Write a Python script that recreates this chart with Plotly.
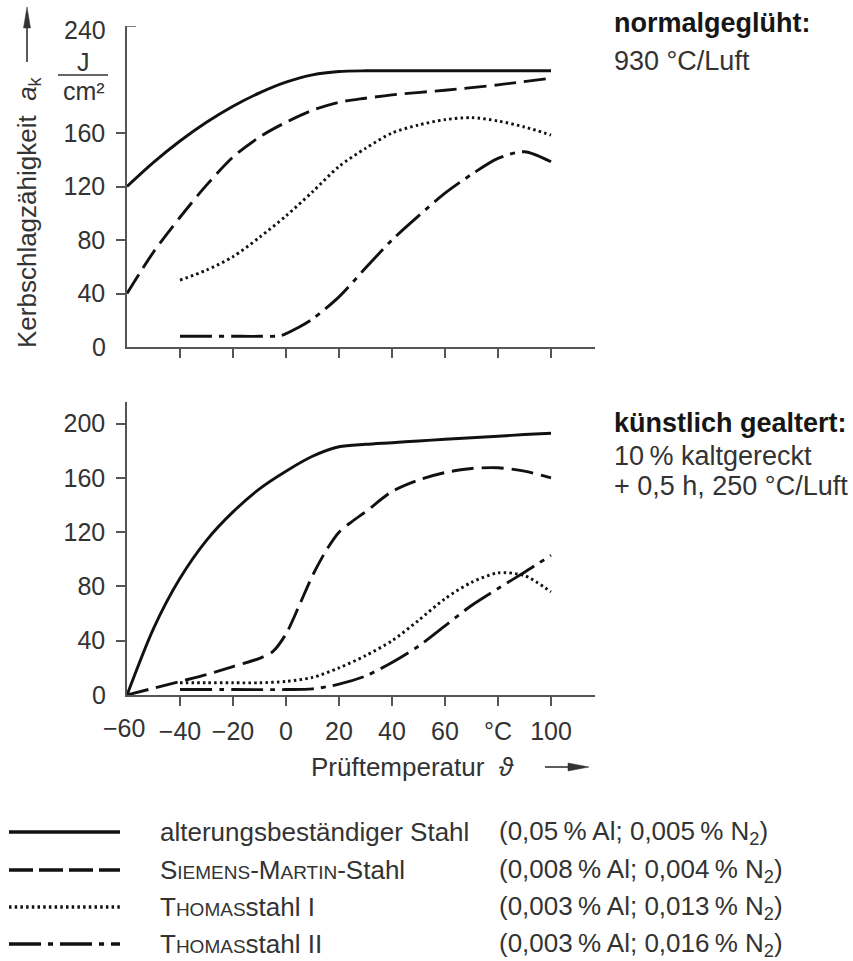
import plotly.graph_objects as go

# ---------------- data ----------------
# normalgeglüht (upper panel)
top_solid_x = [-60, -50, -40, -30, -20, -10, 0, 10, 20, 30, 40, 60, 80, 100]
top_solid_y = [120, 138, 154, 168, 180, 190, 198, 203.5, 206, 206.5, 206.5, 206.5, 206.5, 206.5]

top_dash_x = [-60, -50, -40, -30, -20, -10, 0, 10, 20, 30, 40, 60, 80, 100]
top_dash_y = [40, 71, 97, 121, 142, 157, 168, 177, 183, 186, 188.5, 192, 196, 201]

top_dot_x = [-40, -30, -20, -10, 0, 10, 20, 30, 40, 50, 60, 70, 80, 90, 100]
top_dot_y = [50, 57.5, 67.5, 82, 98, 116, 135, 148.5, 160, 166, 170, 171.5, 169, 164.5, 158.5]

top_dd_x = [-40, -30, -20, -10, -2, 5, 10, 20, 30, 40, 50, 60, 70, 80, 90, 100]
top_dd_y = [8, 8, 8, 8, 8.5, 15, 21, 37.5, 59, 80, 98, 115, 129, 141, 146, 138.5]

# künstlich gealtert (lower panel)
bot_solid_x = [-60, -50, -40, -30, -20, -10, 0, 10, 20, 30, 40, 50, 60, 70, 80, 90, 100]
bot_solid_y = [0, 49, 86, 114, 135, 152, 165, 176, 183, 184.8, 186, 187.3, 188.5, 189.6, 190.8, 192, 193]

bot_dash_x = [-60, -50, -40, -30, -20, -10, -5, 0, 5, 10, 15, 20, 25, 30, 40, 50, 60, 70, 80, 90, 100]
bot_dash_y = [0, 5, 10, 15, 21, 27, 32, 45, 66, 88, 106, 120, 128, 135, 150, 158.5, 164, 167, 167.5, 165, 160]

bot_dot_x = [-40, -30, -20, -10, 0, 10, 20, 30, 40, 50, 60, 70, 80, 90, 100]
bot_dot_y = [9, 9, 9, 9, 10, 13, 20, 29, 40, 55, 71, 83, 90, 88, 76]

bot_dd_x = [-40, -20, 0, 10, 20, 30, 40, 50, 60, 70, 80, 90, 100]
bot_dd_y = [4, 4, 4, 4.5, 8, 14, 24, 36, 51, 66, 78.5, 90.5, 103]

# axis ticks
x_ticks = [-40, -20, 0, 20, 40, 60, 80, 100]
x_ticktext = ["−40", "−20", "0", "20", "40", "60", "°C", "100"]
top_y_ticks = [40, 80, 120, 160]
bot_y_ticks = [40, 80, 120, 160, 200]

legend_names = [
    "alterungsbeständiger Stahl",
    "S<span style='font-size:19px'>IEMENS</span>-M<span style='font-size:19px'>ARTIN</span>-Stahl",
    "T<span style='font-size:19px'>HOMAS</span>stahl I",
    "T<span style='font-size:19px'>HOMAS</span>stahl II",
]
legend_comp = [
    "(0,05\u2009% Al; 0,005\u2009% N<sub>2</sub>)",
    "(0,008\u2009% Al; 0,004\u2009% N<sub>2</sub>)",
    "(0,003\u2009% Al; 0,013\u2009% N<sub>2</sub>)",
    "(0,003\u2009% Al; 0,016\u2009% N<sub>2</sub>)",
]

# ---------------- styling ----------------
FONT = "Liberation Sans, Arial, sans-serif"
INK = "#111111"
AXIS = "#555555"
LABEL = "#333333"
DASHES = ["solid", "22px,8px", "2.5px,3.2px", "32px,7px,5px,7px"]

W, H = 853, 961
L, R, T, B = 127, 595, 26, 695  # plot area in pixels


def px(xp):
    return (xp - L) / (R - L)


def py(yp):
    return (B - yp) / (B - T)


fig = go.Figure()

series = [
    ("x", "y", top_solid_x, top_solid_y, 0),
    ("x", "y", top_dash_x, top_dash_y, 1),
    ("x", "y", top_dot_x, top_dot_y, 2),
    ("x", "y", top_dd_x, top_dd_y, 3),
    ("x2", "y2", bot_solid_x, bot_solid_y, 0),
    ("x2", "y2", bot_dash_x, bot_dash_y, 1),
    ("x2", "y2", bot_dot_x, bot_dot_y, 2),
    ("x2", "y2", bot_dd_x, bot_dd_y, 3),
]
for xa, ya, xs, ys, k in series:
    fig.add_trace(go.Scatter(
        x=xs, y=ys, xaxis=xa, yaxis=ya, mode="lines",
        line=dict(color=INK, width=2.9, dash=DASHES[k], shape="spline", smoothing=0.8),
        showlegend=False, hoverinfo="skip",
    ))

axis_common = dict(
    showline=True, linecolor=AXIS, linewidth=1.5, showgrid=False, zeroline=False,
    ticks="outside", ticklen=9, tickwidth=1.5, tickcolor=AXIS,
    tickfont=dict(family=FONT, size=25, color=LABEL), fixedrange=True,
)
x_range = [-60, -60 + (R - L) / (424 / 160)]

fig.update_layout(
    width=W, height=H,
    margin=dict(l=L, r=W - R, t=T, b=H - B),
    paper_bgcolor="white", plot_bgcolor="white",
    font=dict(family=FONT, size=25, color=LABEL),
    xaxis=dict(domain=[0, 1], range=x_range, anchor="y", tickvals=x_ticks,
               showticklabels=False, **axis_common),
    yaxis=dict(domain=[py(347), 1], range=[0, 240], anchor="x", tickvals=top_y_ticks,
               ticktext=[str(v) for v in top_y_ticks], ticklabelstandoff=6, **axis_common),
    xaxis2=dict(domain=[0, 1], range=x_range, anchor="y2", tickvals=x_ticks,
                ticktext=x_ticktext, ticklabelstandoff=4, **axis_common),
    yaxis2=dict(domain=[0, py(402)], range=[0, 216], anchor="x2", tickvals=bot_y_ticks,
                ticktext=[str(v) for v in bot_y_ticks], ticklabelstandoff=6, **axis_common),
)

shapes = []
ann = []

# inward tick at the top of the upper value axis
shapes.append(dict(type="line", xref="x", yref="y", xsizemode="pixel", xanchor=-60,
                   x0=0, x1=9, y0=240, y1=240, line=dict(color=AXIS, width=1.5)))

# corner and unit labels of the value axes
tick_font = dict(family=FONT, size=25, color=LABEL)
ann.append(dict(x=-60, y=240, xref="x", yref="y", text="240", showarrow=False,
                xanchor="right", yanchor="middle", xshift=-19, yshift=-4, font=tick_font))
ann.append(dict(x=-60, y=0, xref="x", yref="y", text="0", showarrow=False,
                xanchor="right", yanchor="middle", xshift=-19, font=tick_font))
ann.append(dict(x=-60, y=0, xref="x2", yref="y2", text="0", showarrow=False,
                xanchor="right", yanchor="middle", xshift=-19, font=tick_font))
ann.append(dict(x=-60, y=0, xref="x2", yref="y2", text="−60", showarrow=False,
                xanchor="center", yanchor="top", yshift=-17, xshift=-3, font=tick_font))
ann.append(dict(x=px(83), y=py(62), xref="paper", yref="paper", text="J", showarrow=False,
                xanchor="center", yanchor="middle", font=tick_font))
ann.append(dict(x=px(84), y=py(91), xref="paper", yref="paper", text="cm²", showarrow=False,
                xanchor="center", yanchor="middle", font=tick_font))
shapes.append(dict(type="line", xref="paper", yref="paper", x0=px(58), x1=px(108),
                   y0=py(75), y1=py(75), line=dict(color=LABEL, width=1.5)))

# value axis title with upward arrow
ann.append(dict(x=px(28), y=py(212), xref="paper", yref="paper",
                text="Kerbschlagzähigkeit  <i>a</i><sub>k</sub>", textangle=-90,
                showarrow=False, xanchor="center", yanchor="middle",
                font=dict(family=FONT, size=26, color=LABEL)))
shapes.append(dict(type="line", xref="paper", yref="paper", x0=px(27), x1=px(27),
                   y0=py(62), y1=py(24), line=dict(color=LABEL, width=1.6)))
shapes.append(dict(type="path", xref="paper", yref="paper",
                   path=f"M {px(23.5)},{py(28)} L {px(27)},{py(7)} L {px(30.5)},{py(28)} Z",
                   fillcolor=LABEL, line=dict(color=LABEL, width=0.5)))

# temperature axis title with arrow
ann.append(dict(x=px(309), y=py(767), xref="paper", yref="paper",
                text="Prüftemperatur  <i>ϑ</i>", showarrow=False,
                xanchor="left", yanchor="middle",
                font=dict(family=FONT, size=26, color=LABEL)))
shapes.append(dict(type="line", xref="paper", yref="paper", x0=px(545), x1=px(572),
                   y0=py(767), y1=py(767), line=dict(color=LABEL, width=1.6)))
shapes.append(dict(type="path", xref="paper", yref="paper",
                   path=f"M {px(568)},{py(763)} L {px(589)},{py(767)} L {px(568)},{py(771)} Z",
                   fillcolor=LABEL, line=dict(color=LABEL, width=0.5)))

# panel captions
cap_font = dict(family=FONT, size=27, color=LABEL)
bold_font = dict(family=FONT, size=27, color="#161616")
captions = [
    ("<b>normalgeglüht:</b>", 23, bold_font),
    ("930 °C/Luft", 61, cap_font),
    ("<b>künstlich gealtert:</b>", 423, bold_font),
    ("10\u2009% kaltgereckt", 456, cap_font),
    ("+ 0,5 h, 250 °C/Luft", 486, cap_font),
]
for txt, yp, f in captions:
    ann.append(dict(x=px(612), y=py(yp), xref="paper", yref="paper", text=txt,
                    showarrow=False, xanchor="left", yanchor="middle", font=f))

# key below the panels
key_font = dict(family=FONT, size=26, color=LABEL)
rows_y = [832, 870, 907, 944]
for i, yp in enumerate(rows_y):
    shapes.append(dict(type="line", xref="paper", yref="paper", x0=px(9), x1=px(120),
                       y0=py(yp), y1=py(yp),
                       line=dict(color=INK, width=3.4, dash=DASHES[i] if i != 1 else "24px,6px")))
    ann.append(dict(x=px(158), y=py(yp), xref="paper", yref="paper", text=legend_names[i],
                    showarrow=False, xanchor="left", yanchor="middle", font=key_font))
    ann.append(dict(x=px(497), y=py(yp), xref="paper", yref="paper", text=legend_comp[i],
                    showarrow=False, xanchor="left", yanchor="middle", font=key_font))

fig.update_layout(shapes=shapes, annotations=ann)
fig.write_html("out.html")
